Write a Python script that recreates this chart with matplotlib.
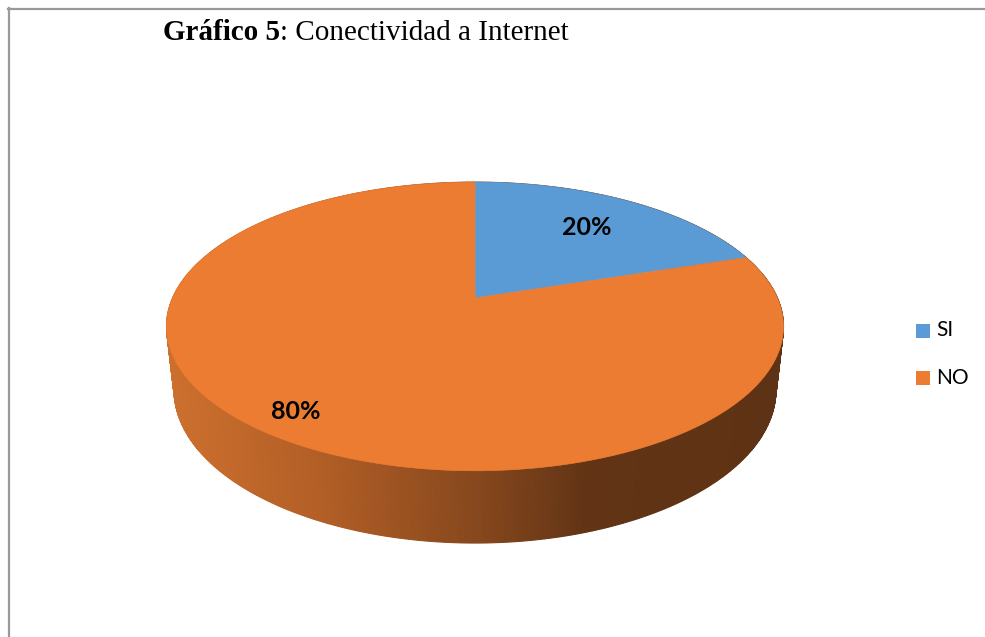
import numpy as np
import matplotlib
matplotlib.use("Agg")
import matplotlib.pyplot as plt
from matplotlib.patches import Polygon, Rectangle
from matplotlib.lines import Line2D

# ---- data ----
categories = ["SI", "NO"]
values = [20, 80]
pct_labels = ["20%", "80%"]
colors = ["#5B9BD5", "#EB7C32"]
title_bold = "Gráfico 5"
title_rest = ": Conectividad a Internet"

# ---- figure ----
W, H = 985, 637
fig = plt.figure(figsize=(W / 100, H / 100), dpi=100)
ax = fig.add_axes([0, 0, 1, 1])
ax.set_xlim(0, W)
ax.set_ylim(H, 0)
ax.axis("off")

# border (top + left)
ax.add_line(Line2D([8, W], [8.5, 8.5], color="#9a9a9a", lw=1.6))
ax.add_line(Line2D([8.5, 8.5], [8, H], color="#9a9a9a", lw=1.6))

# ---- perspective projection of a 3D pie ----
F = 1364.0
DIST = 4.51
PHI = np.deg2rad(27.3)
THICK = 0.238
CX, CY = 475.0, 298.0


def proj(X, Y, Z):
    depth = DIST + Y * np.cos(PHI) - Z * np.sin(PHI)
    up = Y * np.sin(PHI) + Z * np.cos(PHI)
    return CX + F * X / depth, CY - F * up / depth


def rim(t, z=0.0, r=1.0):
    return proj(r * np.sin(t), r * np.cos(t), z)


# side shading
tt = np.linspace(0, 2 * np.pi, 721)
xs_all, _ = rim(tt)
xmin, xmax = xs_all.min(), xs_all.max()
shade_pos = [0.0, 0.25, 0.5, 0.68, 1.0]
shade_rgb = np.array([[205, 112, 46], [178, 94, 38], [135, 72, 29],
                      [98, 52, 21], [94, 50, 20]]) / 255.0


def side_color(x):
    s = (x - xmin) / (xmax - xmin)
    return [np.interp(s, shade_pos, shade_rgb[:, k]) for k in range(3)]


# side quads, far to near
segs = []
for i in range(len(tt) - 1):
    t0, t1 = tt[i], tt[i + 1]
    tm = 0.5 * (t0 + t1)
    segs.append((np.cos(tm), t0, t1))
segs.sort(key=lambda s: -s[0])
for depth, t0, t1 in segs:
    x0, y0 = rim(t0)
    x1, y1 = rim(t1)
    x2, y2 = rim(t1, -THICK)
    x3, y3 = rim(t0, -THICK)
    c = side_color(0.5 * (x0 + x1))
    ax.add_patch(Polygon([[x0, y0], [x1, y1], [x2, y2], [x3, y3]],
                         closed=True, facecolor=c, edgecolor=c, lw=0.8))

# top slices
total = float(sum(values))
start = 0.0
label_r = [0.7, 0.87]
for i, v in enumerate(values):
    a0 = start
    a1 = start + 2 * np.pi * v / total
    ts = np.linspace(a0, a1, 200)
    px, py = rim(ts)
    pts = np.column_stack([np.r_[CX, px], np.r_[CY, py]])
    ax.add_patch(Polygon(pts, closed=True, facecolor=colors[i],
                         edgecolor=colors[i], lw=0.5))
    am = 0.5 * (a0 + a1)
    lx, ly = rim(am, 0.0, label_r[i])
    ax.text(lx, ly, pct_labels[i], ha="center", va="center",
            fontsize=18, fontweight="bold", family="Lato", color="black")
    start = a1

# ---- legend ----
leg_y = [330.5, 378]
for i, cat in enumerate(categories):
    ax.add_patch(Rectangle((916, leg_y[i] - 7), 14, 14, facecolor=colors[i],
                           edgecolor="none"))
    ax.text(936, leg_y[i], cat, ha="left", va="center", fontsize=15,
            family="Lato", color="black")

# ---- title ----
t1 = ax.text(163, 40, title_bold, ha="left", va="baseline", fontsize=21,
             fontweight="bold", family="Liberation Serif", color="black")
ax.annotate(title_rest, xy=(1, 0), xycoords=t1, ha="left", va="bottom",
            fontsize=21, family="Liberation Serif", color="black")

fig.savefig("out.png", dpi=100)
